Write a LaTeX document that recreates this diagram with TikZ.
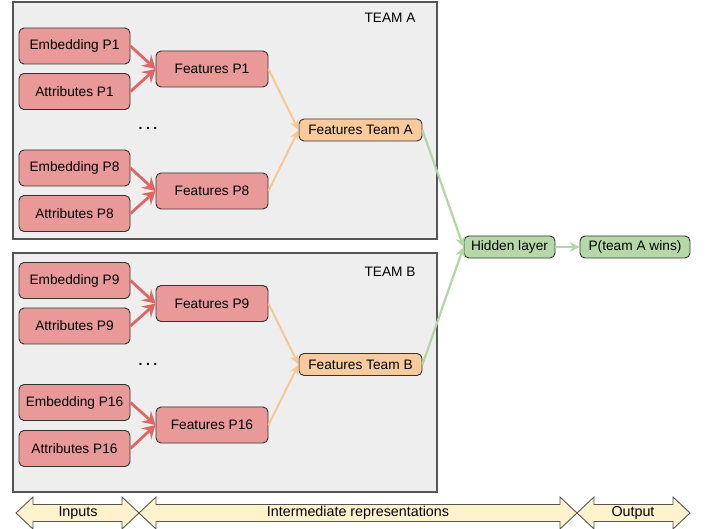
\documentclass[tikz,border=0pt]{standalone}
\usepackage{fontspec}
\setmainfont{Liberation Sans}
\usetikzlibrary{arrows.meta}
\definecolor{redfill}{HTML}{EA9999}
\definecolor{redline}{HTML}{E06666}
\definecolor{orgfill}{HTML}{F9CB9C}
\definecolor{orgline}{HTML}{F9C792}
\definecolor{grnfill}{HTML}{B6D7A8}
\definecolor{grnline}{HTML}{B3D6A5}
\definecolor{teamfill}{HTML}{EEEEEE}
\definecolor{teamline}{HTML}{555555}
\definecolor{barfill}{HTML}{FFF2CC}
\definecolor{nodeline}{HTML}{333333}
\tikzset{
  base/.style={draw=nodeline, line width=0.9pt, rounded corners=5pt, inner sep=0pt, align=center,
    font=\fontsize{13.7}{16}\selectfont},
  rednode/.style={base, fill=redfill, minimum width=111pt, minimum height=36pt},
  featnode/.style={base, fill=redfill, minimum width=112pt, minimum height=36pt},
  teamnode/.style={base, fill=orgfill, minimum width=123pt, minimum height=22pt},
  grnnode/.style={base, fill=grnfill, minimum height=22pt},
  teambox/.style={draw=teamline, fill=teamfill, line width=1.2pt},
  lbl/.style={font=\fontsize{13.7}{16}\selectfont, inner sep=0pt},
  barlbl/.style={font=\fontsize{14.3}{16}\selectfont, inner sep=0pt},
  redarr/.style={draw=redline, line width=2.8pt, -{Stealth[length=13pt,width=15pt,inset=5pt]}},
  orgarr/.style={draw=orgline, line width=2pt, -{Stealth[length=10pt,width=9pt,inset=3.5pt]}},
  grnarr/.style={draw=grnline, line width=2.2pt, -{Stealth[length=10pt,width=10pt,inset=3.5pt]}},
  bar/.style={draw=teamline, fill=barfill, line width=0.9pt},
  dots/.style={font=\bfseries\fontsize{14}{16}\selectfont, inner sep=0pt},
}
\begin{document}
\begin{tikzpicture}[x=1pt,y=-1pt]
\useasboundingbox (0,0) rectangle (710,529);
% team boxes
\draw[teambox] (13,2) rectangle (437,239);
\draw[teambox] (13,253) rectangle (437,492);
\node[lbl] (ta) at (390,18) {TEAM A};
\node[lbl] (tb) at (390,272) {TEAM B};
% team A
\node[rednode] (e1) at (74.5,46) {Embedding P1};
\node[rednode] (a1) at (74.5,91.5) {Attributes P1};
\node[featnode] (f1) at (212,69) {Features P1};
\node[dots] (d1) at (148,128) {.\hspace{3.5pt}.\hspace{3.5pt}.};
\node[rednode] (e8) at (74.5,168) {Embedding P8};
\node[rednode] (a8) at (74.5,213.5) {Attributes P8};
\node[featnode] (f8) at (212,191) {Features P8};
\node[teamnode] (fa) at (360.5,130) {Features Team A};
% team B
\node[rednode] (e9) at (74.5,280.5) {Embedding P9};
\node[rednode] (a9) at (74.5,326) {Attributes P9};
\node[featnode] (f9) at (212,303.5) {Features P9};
\node[dots] (d2) at (148,364) {.\hspace{3.5pt}.\hspace{3.5pt}.};
\node[rednode] (e16) at (74.5,402.5) {Embedding P16};
\node[rednode] (a16) at (74.5,448.5) {Attributes P16};
\node[featnode] (f16) at (212,425) {Features P16};
\node[teamnode] (fb) at (360.5,364.5) {Features Team B};
% outputs
\node[grnnode, minimum width=91pt] (hl) at (509.5,247) {Hidden layer};
\node[grnnode, minimum width=110pt] (pw) at (635,247) {P(team A wins)};
% arrows
\foreach \s/\t in {e1/f1,a1/f1,e8/f8,a8/f8,e9/f9,a9/f9,e16/f16,a16/f16}
  \draw[redarr] (\s.east) -- (\t.west);
\foreach \s/\t in {f1/fa,f8/fa,f9/fb,f16/fb}
  \draw[orgarr] (\s.east) -- (\t.west);
\draw[grnarr] (fa.east) -- (hl.west);
\draw[grnarr] (fb.east) -- (hl.west);
\draw[grnarr] (hl.east) -- (pw.west);
% bottom bars
\draw[bar] (16,513) -- (33,497) -- (33,504.5) -- (122,504.5) -- (122,497) -- (139,513)
  -- (122,529) -- (122,521.5) -- (33,521.5) -- (33,529) -- cycle;
\draw[bar] (139,513) -- (156,497) -- (156,504.5) -- (560,504.5) -- (560,497) -- (577,513)
  -- (560,529) -- (560,521.5) -- (156,521.5) -- (156,529) -- cycle;
\draw[bar] (577,513) -- (594,497) -- (594,504.5) -- (673,504.5) -- (673,497) -- (690,513)
  -- (673,529) -- (673,521.5) -- (594,521.5) -- (594,529) -- cycle;
\node[barlbl] (in) at (78,513) {Inputs};
\node[barlbl] (ir) at (358,513) {Intermediate representations};
\node[barlbl] (ou) at (633,513) {Output};
\end{tikzpicture}
\end{document}
